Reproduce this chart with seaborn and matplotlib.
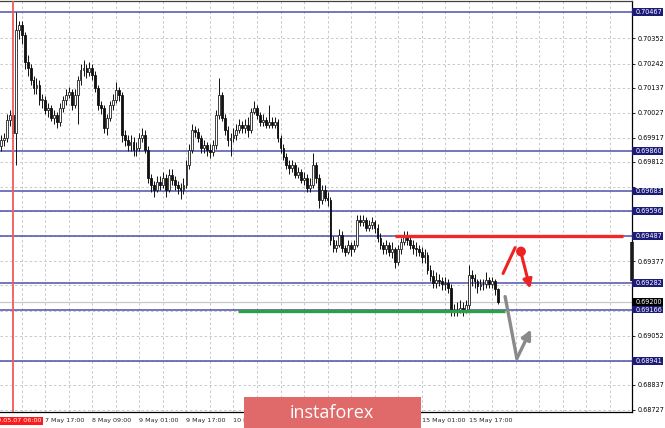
import matplotlib
matplotlib.use("Agg")
import matplotlib.pyplot as plt
from matplotlib.patches import Rectangle
from matplotlib.transforms import blended_transform_factory
import numpy as np
import seaborn as sns

# hourly candles, 7 May 02:00 -> 16 May 03:00
first_open = 0.69880
closes = [
    0.69909, 0.69918, 0.69997, 0.70018, 0.69940, 0.70390, 0.70412, 0.70368, 0.70250, 0.70224,
    0.70171, 0.70136, 0.70150, 0.70084, 0.70084, 0.70040, 0.70049, 0.70005, 0.70018, 0.69988,
    0.70049, 0.70084, 0.70106, 0.70119, 0.70062, 0.70106, 0.70171, 0.70215, 0.70224, 0.70206,
    0.70224, 0.70193, 0.70136, 0.70062, 0.70049, 0.69962, 0.70005, 0.70062, 0.70084, 0.70128,
    0.70106, 0.69931, 0.69909, 0.69887, 0.69900, 0.69866, 0.69874, 0.69918, 0.69931, 0.69866,
    0.69743, 0.69712, 0.69691, 0.69726, 0.69712, 0.69743, 0.69691, 0.69756, 0.69734, 0.69712,
    0.69699, 0.69691, 0.69712, 0.69800, 0.69866, 0.69953, 0.69944, 0.69918, 0.69874, 0.69887,
    0.69866, 0.69857, 0.69887, 0.70018, 0.70106, 0.70005, 0.69953, 0.69909, 0.69918, 0.69931,
    0.69953, 0.69975, 0.69962, 0.69975, 0.69953, 0.70032, 0.70049, 0.70018, 0.69988, 0.69997,
    0.69975, 0.69988, 0.69975, 0.69988, 0.69918, 0.69874, 0.69835, 0.69800, 0.69787, 0.69800,
    0.69756, 0.69769, 0.69734, 0.69743, 0.69699, 0.69712, 0.69800, 0.69743, 0.69647, 0.69691,
    0.69656, 0.69647, 0.69472, 0.69437, 0.69450, 0.69494, 0.69437, 0.69420, 0.69450, 0.69429,
    0.69450, 0.69560, 0.69551, 0.69560, 0.69525, 0.69538, 0.69551, 0.69525, 0.69481, 0.69450,
    0.69429, 0.69450, 0.69420, 0.69429, 0.69376, 0.69429, 0.69463, 0.69494, 0.69472, 0.69450,
    0.69437, 0.69429, 0.69420, 0.69394, 0.69407, 0.69341, 0.69311, 0.69284, 0.69297, 0.69289,
    0.69276, 0.69284, 0.69262, 0.69166, 0.69157, 0.69166, 0.69175, 0.69166, 0.69188, 0.69319,
    0.69306, 0.69289, 0.69271, 0.69280, 0.69276, 0.69297, 0.69280, 0.69289, 0.69254, 0.69201,
]
highs = [
    0.6993, 0.6994, 0.7002, 0.7004, 0.7003, 0.70467, 0.7043, 0.7043, 0.7038, 0.7028,
    0.7024, 0.7019, 0.7018, 0.7017, 0.7011, 0.7010, 0.7007, 0.7006, 0.7004, 0.7003,
    0.7007, 0.7010, 0.7013, 0.7014, 0.7013, 0.7013, 0.7019, 0.7024, 0.7026, 0.7024,
    0.7025, 0.7024, 0.7021, 0.7015, 0.7008, 0.7006, 0.7002, 0.7008, 0.7011, 0.7016,
    0.7014, 0.7012, 0.6995, 0.6993, 0.6993, 0.6992, 0.6990, 0.6994, 0.6996, 0.6995,
    0.6988, 0.6976, 0.6973, 0.6975, 0.6975, 0.6977, 0.6976, 0.6978, 0.6978, 0.6975,
    0.6973, 0.6972, 0.6974, 0.6982, 0.6989, 0.6998, 0.6997, 0.6996, 0.6993, 0.6991,
    0.6990, 0.6989, 0.6991, 0.7004, 0.7018, 0.7012, 0.7002, 0.6997, 0.6994, 0.6996,
    0.6998, 0.7000, 0.6999, 0.7000, 0.7001, 0.7005, 0.7008, 0.7006, 0.7003, 0.7002,
    0.7001, 0.7006, 0.7001, 0.7001, 0.7000, 0.6993, 0.6989, 0.6985, 0.6982, 0.6982,
    0.6981, 0.6979, 0.6978, 0.6977, 0.6976, 0.6974, 0.6985, 0.6981, 0.6976, 0.6971,
    0.6971, 0.6968, 0.6966, 0.6949, 0.6947, 0.6952, 0.6951, 0.6945, 0.6947, 0.6946,
    0.6947, 0.6958, 0.6958, 0.6958, 0.6957, 0.6956, 0.6957, 0.6956, 0.6954, 0.6950,
    0.6946, 0.6947, 0.6946, 0.6946, 0.6944, 0.6945, 0.6948, 0.6951, 0.6951, 0.6949,
    0.6947, 0.6946, 0.6945, 0.6944, 0.6943, 0.6942, 0.6936, 0.6934, 0.6933, 0.6932,
    0.6931, 0.6931, 0.6930, 0.6928, 0.6919, 0.6920, 0.6921, 0.6920, 0.6921, 0.6936,
    0.6934, 0.6932, 0.6930, 0.6930, 0.6930, 0.6933, 0.6931, 0.6931, 0.6930, 0.6926,
]
lows = [
    0.6986, 0.6988, 0.6990, 0.6997, 0.6992, 0.6980, 0.7035, 0.7033, 0.7022, 0.7019,
    0.7015, 0.7011, 0.7011, 0.7006, 0.7005, 0.7002, 0.7001, 0.6999, 0.6998, 0.6996,
    0.6997, 0.7003, 0.7006, 0.7009, 0.7004, 0.7005, 0.6998, 0.7015, 0.7019, 0.7018,
    0.7019, 0.7017, 0.7012, 0.7004, 0.7002, 0.6994, 0.6993, 0.6999, 0.7004, 0.7007,
    0.7008, 0.6990, 0.6988, 0.6986, 0.6986, 0.6984, 0.6984, 0.6986, 0.6990, 0.6985,
    0.6972, 0.6968, 0.6966, 0.6968, 0.6969, 0.6970, 0.6966, 0.6968, 0.6971, 0.6969,
    0.6967, 0.6965, 0.6967, 0.6970, 0.6978, 0.6985, 0.6992, 0.6990, 0.6985, 0.6985,
    0.6984, 0.6983, 0.6984, 0.6987, 0.7000, 0.6999, 0.6993, 0.6988, 0.6984, 0.6990,
    0.6991, 0.6994, 0.6994, 0.6994, 0.6992, 0.6994, 0.7002, 0.7000, 0.6997, 0.6997,
    0.6996, 0.6996, 0.6996, 0.6996, 0.6990, 0.6985, 0.6982, 0.6978, 0.6976, 0.6977,
    0.6974, 0.6974, 0.6972, 0.6971, 0.6968, 0.6968, 0.6970, 0.6972, 0.6961, 0.6963,
    0.6964, 0.6962, 0.6945, 0.6942, 0.6942, 0.6944, 0.6942, 0.6940, 0.6941, 0.6940,
    0.6942, 0.6944, 0.6953, 0.6953, 0.6951, 0.6951, 0.6952, 0.6950, 0.6946, 0.6943,
    0.6941, 0.6941, 0.6940, 0.6939, 0.6935, 0.6936, 0.6941, 0.6945, 0.6945, 0.6943,
    0.6941, 0.6940, 0.6940, 0.6937, 0.6937, 0.6932, 0.6929, 0.6926, 0.6926, 0.6927,
    0.6925, 0.6925, 0.6924, 0.6914, 0.6914, 0.6914, 0.6915, 0.6914, 0.6915, 0.6917,
    0.6927, 0.6926, 0.6924, 0.6925, 0.6925, 0.6926, 0.6926, 0.6926, 0.6923, 0.6919,
]

levels = [0.70467, 0.69860, 0.69683, 0.69596, 0.69487, 0.69282, 0.69166, 0.68941]
bid_price = 0.69200
resistance_level = 0.69487
support_level = 0.69162

grid_prices = [0.70352, 0.70242, 0.70137, 0.70027, 0.69917, 0.69812, 0.69703, 0.69596,
               0.69487, 0.69377, 0.69272, 0.69162, 0.69052, 0.68941, 0.68837, 0.68727]
plain_price_labels = [0.70352, 0.70242, 0.70137, 0.70027, 0.69917, 0.69812,
                      0.69377, 0.69052, 0.68837, 0.68727]

time_tick_bars = [15, 31, 47, 63, 79, 95, 111, 127, 143, 159]
time_tick_labels = ["7 May 17:00", "8 May 09:00", "9 May 01:00", "9 May 17:00", "10 May 09:00",
                    "13 May 01:00", "13 May 17:00", "14 May 09:00", "15 May 01:00", "15 May 17:00"]
marker_bar = 4
marker_label = "2019.05.07 06:00"

sns.set_style("white")
plt.rcParams["font.family"] = ["DejaVu Sans"]

W, H = 665, 428
fig = plt.figure(figsize=(W / 100, H / 100), dpi=100)
ax = fig.add_axes([0, 16 / H, 632 / W, 411 / H])
ax.set_xlim(-0.41, 214.56)
ax.set_ylim(0.68718, 0.70516)

closes_a = np.array(closes)
opens_a = np.array([first_open] + closes[:-1])
bars = np.arange(len(closes_a))

# grid
for gx in range(7, 215, 8):
    ax.axvline(gx, color="#c8c8c8", lw=0.7, ls=(0, (2.5, 2.5)), zorder=0)
for gy in grid_prices:
    ax.axhline(gy, color="#c8c8c8", lw=0.7, ls=(0, (2.5, 2.5)), zorder=0)

# levels
for lv in levels:
    ax.axhline(lv, color="#4f4fac", lw=1.1, zorder=1)
ax.axhline(bid_price, color="#c8c8c8", lw=0.9, zorder=1)

# candles
ax.vlines(bars, lows, highs, color="#111111", lw=0.7, zorder=3)
bull = closes_a >= opens_a
body_low = np.minimum(opens_a, closes_a)
body_h = np.maximum(np.abs(closes_a - opens_a), 0.00003)
ax.bar(bars[bull], body_h[bull], bottom=body_low[bull], width=0.62,
       color="white", edgecolor="#222222", linewidth=0.6, zorder=4)
ax.bar(bars[~bull], body_h[~bull], bottom=body_low[~bull], width=0.62,
       color="#111111", edgecolor="#111111", linewidth=0.6, zorder=4)

# session marker
ax.axvline(marker_bar, color="#f25a5a", lw=1.3, zorder=5)

# support / resistance
ax.plot([134, 211.5], [resistance_level, resistance_level], color="#f02828", lw=2.4, zorder=5,
        solid_capstyle="butt")
ax.plot([80.5, 171.3], [support_level, support_level], color="#2e9e48", lw=2.4, zorder=5,
        solid_capstyle="butt")

# scenario arrows
ax.plot([170.7, 174.8], [0.69324, 0.69437], color="#ee2222", lw=2.2, zorder=6,
        solid_capstyle="round")
sns.scatterplot(x=[176.8], y=[0.69420], color="#ee2222", s=50, edgecolor="none", zorder=6, ax=ax)
ax.annotate("", xy=(179.9, 0.69258), xytext=(177.0, 0.69405),
            arrowprops=dict(arrowstyle="-|>", color="#ee2222", lw=2.2, mutation_scale=13,
                            shrinkA=0, shrinkB=0), zorder=6)
ax.plot([171.4, 175.4], [0.69223, 0.68952], color="#8a8a8a", lw=2.4, zorder=6,
        solid_capstyle="round")
ax.annotate("", xy=(180.2, 0.69079), xytext=(175.4, 0.68952),
            arrowprops=dict(arrowstyle="-|>", color="#8a8a8a", lw=2.4, mutation_scale=14,
                            shrinkA=0, shrinkB=0), zorder=6)

# axes styling
ax.spines["left"].set_visible(False)
ax.spines["top"].set_color("#404040")
ax.spines["right"].set_color("black")
ax.spines["bottom"].set_color("black")
for side in ["top", "right", "bottom"]:
    ax.spines[side].set_linewidth(0.9)

ax.yaxis.tick_right()
ax.set_yticks(grid_prices)
ax.set_yticklabels([f"{p:.5f}" if p in plain_price_labels else "" for p in grid_prices])
ax.tick_params(axis="y", direction="out", length=2.5, width=0.6, pad=1.5, labelsize=4.7,
               colors="black")
ax.set_xticks(time_tick_bars)
ax.set_xticklabels(time_tick_labels)
ax.tick_params(axis="x", direction="out", length=2.5, width=0.6, pad=1.5, labelsize=4.6)
for lbl in ax.get_xticklabels():
    lbl.set_horizontalalignment("left")

# boxed price labels on the right axis
tr = blended_transform_factory(ax.transAxes, ax.transData)
box_w = 31 / 632
box_h = 0.00017
for lv in levels:
    ax.add_patch(Rectangle((1.0, lv - box_h), box_w, 2 * box_h, transform=tr,
                           facecolor="#1c1c78", edgecolor="none", clip_on=False, zorder=8))
    ax.text(1.0 + 4 / 632, lv, f"{lv:.5f}", transform=tr, color="white", fontsize=4.7,
            va="center", ha="left", clip_on=False, zorder=9)
ax.add_patch(Rectangle((1.0, bid_price - box_h), box_w, 2 * box_h, transform=tr,
                       facecolor="black", edgecolor="none", clip_on=False, zorder=8))
ax.text(1.0 + 4 / 632, bid_price, f"{bid_price:.5f}", transform=tr, color="white",
        fontsize=4.7, va="center", ha="left", clip_on=False, zorder=9)
ax.plot([1.0, 1.0], [0.69292, 0.69462], transform=tr, color="#1a1a1a", lw=2.6,
        clip_on=False, zorder=7, solid_capstyle="butt")

# date marker label under the red line
trx = blended_transform_factory(ax.transData, ax.transAxes)
ax.text(marker_bar, -0.021, marker_label, transform=trx, color="white", fontsize=4.6,
        ha="center", va="center", clip_on=False, zorder=9,
        bbox=dict(boxstyle="square,pad=0.25", facecolor="#ff1a1a", edgecolor="none"))

# watermark
fig.patches.append(Rectangle((244 / W, 0), 177 / W, 31 / H, transform=fig.transFigure,
                             facecolor="#e06a6a", edgecolor="none", zorder=10))
fig.text(332 / W, 15 / H, "instaforex", color="white", fontsize=13, family="Open Sans",
         ha="center", va="center", zorder=11)

fig.savefig("out.png", dpi=100)
